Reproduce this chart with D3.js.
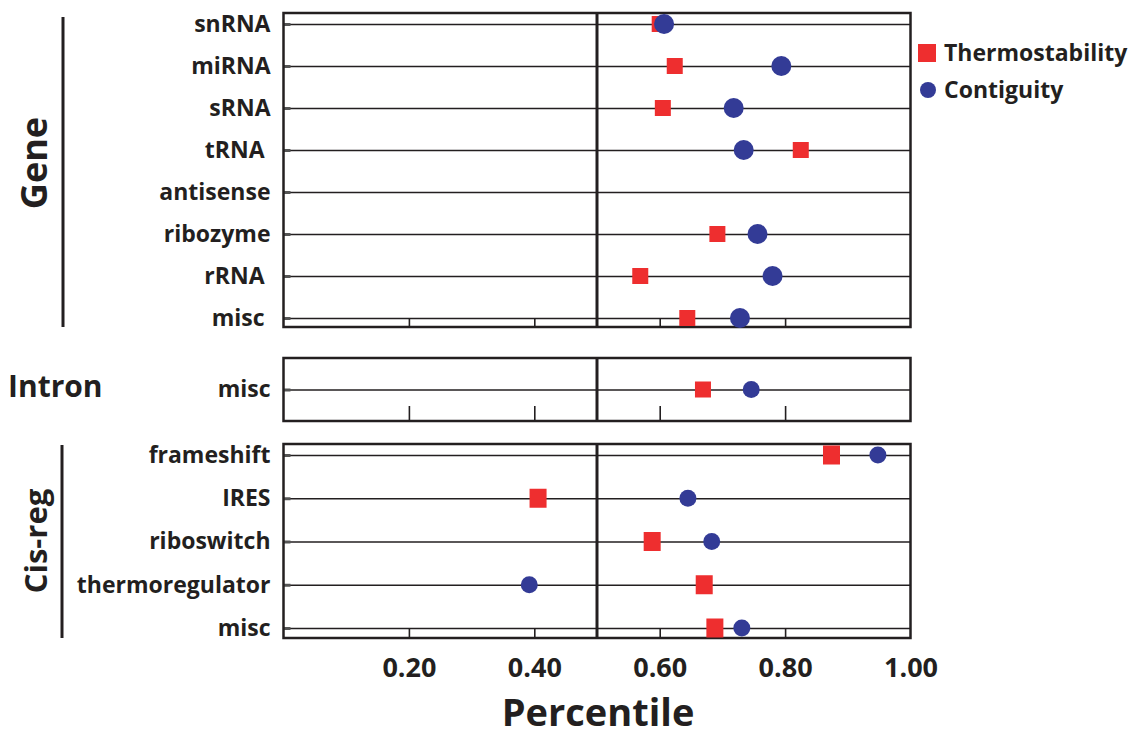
<!DOCTYPE html>
<html lang="en">
<head>
  <meta charset="UTF-8">
  <title>Percentile</title>
  <style>
    body { margin: 0; background: #fff; }
    text { font-family: "Open Sans", sans-serif; font-weight: 700; fill: #231f20; }
    .lab text { white-space: pre; }
  </style>
</head>
<body>
<script src="https://d3js.org/d3.v7.min.js"></script>
<script>
  // ---- data ----
  var geneCats = ["snRNA", "miRNA", "sRNA", "tRNA ", "antisense", "ribozyme", "rRNA ", "misc "];
  var geneThermo = [0.600, 0.624, 0.605, 0.825, null, 0.692, 0.569, 0.644];
  var geneContig = [0.607, 0.794, 0.718, 0.734, null, 0.756, 0.780, 0.728];

  var intronCats = ["misc"];
  var intronThermo = [0.669];
  var intronContig = [0.746];

  var cisCats = ["frameshift", "IRES", "riboswitch", "thermoregulator", "misc"];
  var cisThermo = [0.874, 0.406, 0.588, 0.671, 0.688];
  var cisContig = [0.948, 0.645, 0.683, 0.392, 0.731];

  var xTicks = [0.2, 0.4, 0.6, 0.8, 1.0];

  var w = 1130, h = 739;
  var red = "#ee2e2f", blue = "#333b96", ink = "#231f20";

  var svg = d3.select("body").append("svg")
    .attr("width", w)
    .attr("height", h);

  var x = d3.scaleLinear().domain([0, 1]).range([283.5, 910.5]);
  var x0 = x(0), x1 = x(1);

  var panels = [
    {cats: geneCats, th: geneThermo, co: geneContig, top: 13, bot: 327, r0: 24, r1: 318, tick: 9, sqw: 16, sqh: 16, rad: 10},
    {cats: intronCats, th: intronThermo, co: intronContig, top: 358, bot: 421, r0: 388, r1: 388, tick: 15, sqw: 16, sqh: 16, rad: 8.5},
    {cats: cisCats, th: cisThermo, co: cisContig, top: 444, bot: 638, r0: 455, r1: 628, tick: 10, sqw: 17, sqh: 19, rad: 8.5}
  ];

  panels.forEach(function(p) {
    var y = d3.scalePoint().domain(p.cats).range([p.r0, p.r1]).padding(0);
    if (p.cats.length == 1) y = d3.scalePoint().domain(p.cats).range([p.top, p.bot]).padding(0.5);

    var g = svg.append("g");

    // gridlines + row labels
    var la = g.append("g")
      .attr("class", "lab")
      .attr("transform", "translate(" + x0 + ",0)")
      .call(d3.axisLeft(y).tickSize(-(x1 - x0)).tickPadding(13));
    la.select(".domain").remove();
    la.selectAll("line").attr("stroke", ink).attr("stroke-width", 1.4);
    la.selectAll("text").attr("font-size", 23).attr("fill", ink).attr("font-family", null);

    // small stubs on the left edge
    var st = g.append("g")
      .attr("transform", "translate(" + x0 + ",0)")
      .call(d3.axisLeft(y).tickSize(-7).tickFormat(""));
    st.select(".domain").remove();
    st.selectAll("line").attr("stroke", "#555").attr("stroke-width", 3);

    // bottom ticks pointing up
    var ba = g.append("g")
      .attr("transform", "translate(0," + p.bot + ")")
      .call(d3.axisBottom(x).tickValues(xTicks.slice(0, 4)).tickSize(-p.tick).tickFormat(""));
    ba.select(".domain").remove();
    ba.selectAll("line").attr("stroke", ink).attr("stroke-width", 1.6);

    // frame
    g.append("rect")
      .attr("x", x0).attr("y", p.top)
      .attr("width", x1 - x0).attr("height", p.bot - p.top)
      .attr("fill", "none").attr("stroke", ink).attr("stroke-width", 2.5);

    // 0.5 line
    g.append("line")
      .attr("x1", x(0.5)).attr("x2", x(0.5))
      .attr("y1", p.top).attr("y2", p.bot)
      .attr("stroke", ink).attr("stroke-width", 3);

    var rows = p.cats.map(function(c, i) { return {cat: c, th: p.th[i], co: p.co[i]}; });

    g.selectAll(".sq").data(rows.filter(function(d) { return d.th != null; }))
      .enter().append("rect")
      .attr("x", function(d) { return x(d.th) - p.sqw / 2; })
      .attr("y", function(d) { return y(d.cat) - p.sqh / 2; })
      .attr("width", p.sqw).attr("height", p.sqh)
      .attr("fill", red);

    g.selectAll(".dot").data(rows.filter(function(d) { return d.co != null; }))
      .enter().append("circle")
      .attr("cx", function(d) { return x(d.co); })
      .attr("cy", function(d) { return y(d.cat); })
      .attr("r", p.rad)
      .attr("fill", blue);
  });

  // tick labels below
  var xa = svg.append("g")
    .attr("transform", "translate(0,638)")
    .call(d3.axisBottom(x).tickValues(xTicks).tickSize(0).tickPadding(20).tickFormat(d3.format(".2f")));
  xa.select(".domain").remove();
  xa.selectAll("text").attr("font-size", 27).attr("fill", ink).attr("font-family", null);

  svg.append("text")
    .attr("x", 598).attr("y", 726)
    .attr("text-anchor", "middle")
    .attr("font-size", 38)
    .text("Percentile");

  // group labels
  svg.append("line").attr("x1", 63).attr("x2", 63).attr("y1", 17).attr("y2", 327)
    .attr("stroke", ink).attr("stroke-width", 3);
  svg.append("text")
    .attr("transform", "translate(47,163) rotate(-90)")
    .attr("text-anchor", "middle")
    .attr("font-size", 36)
    .text("Gene");

  svg.append("text")
    .attr("x", 8).attr("y", 397)
    .attr("font-size", 30)
    .text("Intron");

  svg.append("line").attr("x1", 62).attr("x2", 62).attr("y1", 445).attr("y2", 638)
    .attr("stroke", ink).attr("stroke-width", 3);
  svg.append("text")
    .attr("transform", "translate(47,541) rotate(-90)")
    .attr("text-anchor", "middle")
    .attr("font-size", 31)
    .text("Cis-reg");

  // legend
  var leg = svg.append("g");
  leg.append("rect").attr("x", 918).attr("y", 44).attr("width", 18).attr("height", 18).attr("fill", red);
  leg.append("text").attr("x", 944).attr("y", 61).attr("font-size", 23).text("Thermostability");
  leg.append("circle").attr("cx", 928).attr("cy", 90).attr("r", 8).attr("fill", blue);
  leg.append("text").attr("x", 944).attr("y", 98).attr("font-size", 23).text("Contiguity");
</script>
</body>
</html>
